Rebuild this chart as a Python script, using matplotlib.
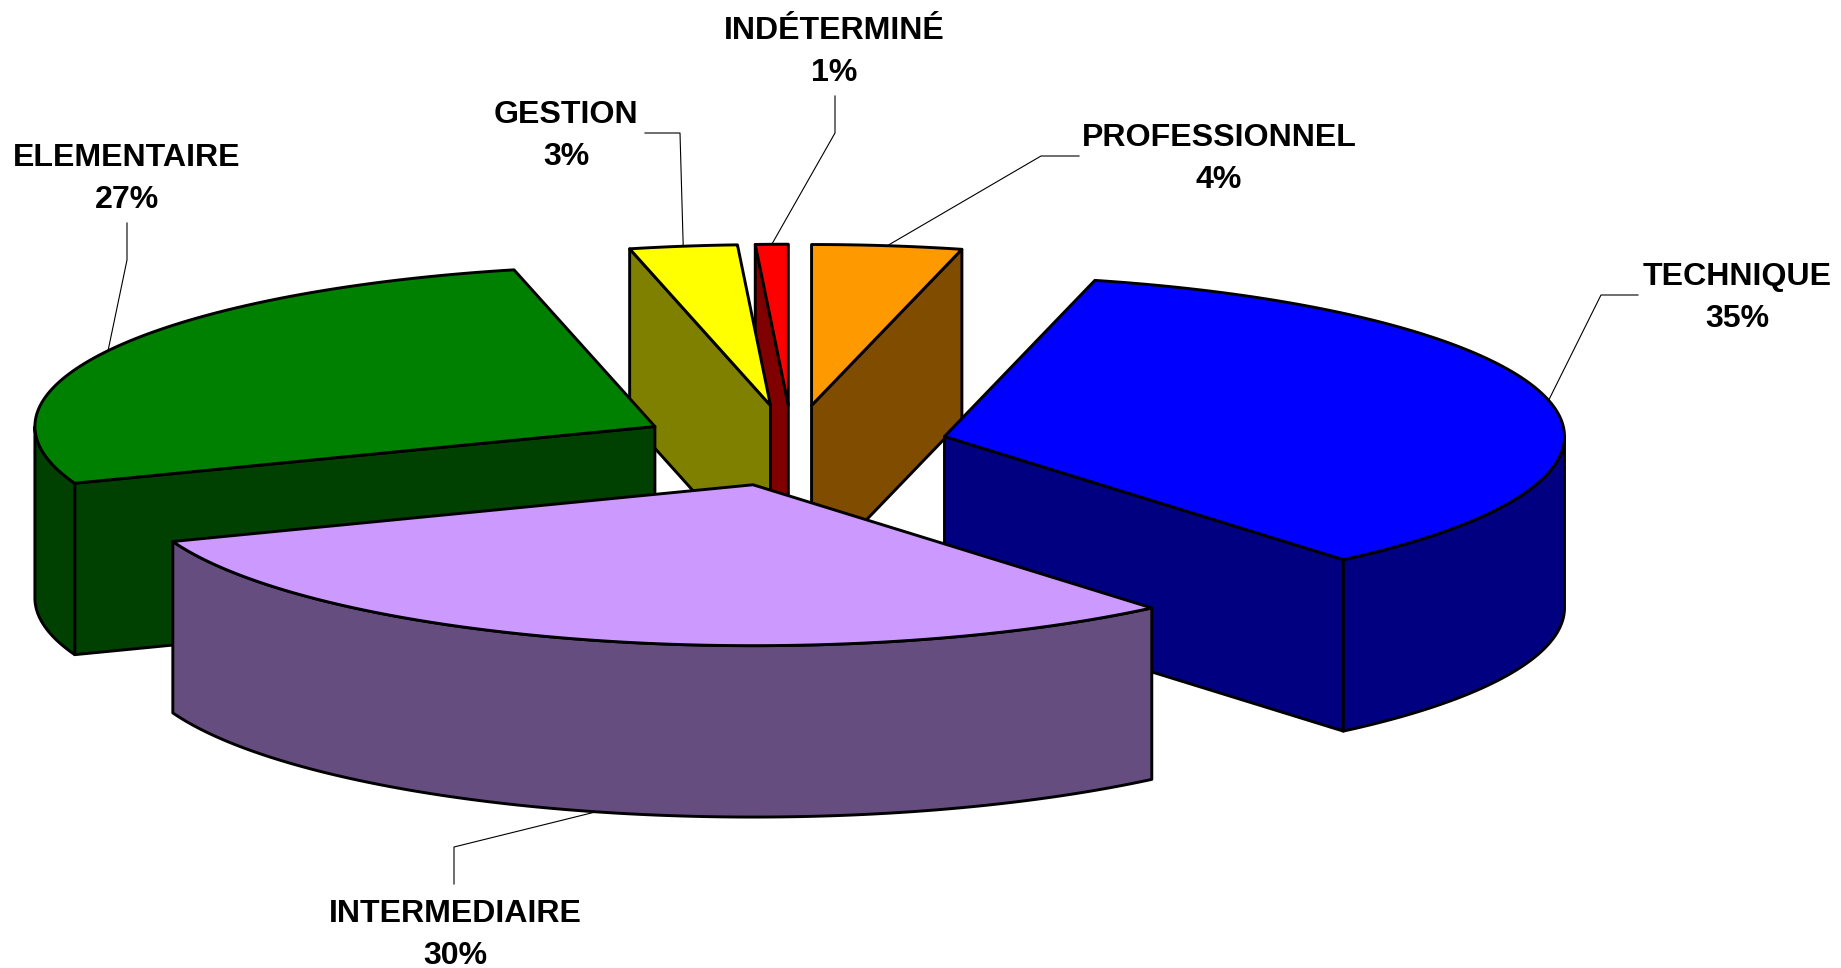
import numpy as np
import matplotlib
matplotlib.use("Agg")
import matplotlib.pyplot as plt
from matplotlib.patches import Polygon
from matplotlib.colors import to_rgb

categories = ["PROFESSIONNEL", "TECHNIQUE", "INTERMEDIAIRE", "ELEMENTAIRE", "GESTION", "INDÉTERMINÉ"]
percents = [3.9, 35.0, 30.4, 27.1, 2.8, 0.85]
top_colors = ["#FF9900", "#0000FF", "#CC99FF", "#008000", "#FFFF00", "#FF0000"]

# layout (pixels of the 1841x968 canvas)
CX, CY = 792.5, 445.6
RX, RY = 620.0, 160.9
EXPLODE = 156.0
DEPTH = 171.4
draw_order = ["INDÉTERMINÉ", "PROFESSIONNEL", "GESTION", "ELEMENTAIRE", "TECHNIQUE", "INTERMEDIAIRE"]
label_pos = {"PROFESSIONNEL": (1219, 159), "TECHNIQUE": (1737, 298), "INTERMEDIAIRE": (455, 935),
             "ELEMENTAIRE": (127, 179), "GESTION": (566, 136), "INDÉTERMINÉ": (834, 52)}
leader_elbow = {"PROFESSIONNEL": [(1041, 156), (1079, 156)], "TECHNIQUE": [(1601, 295), (1638, 295)],
                "INTERMEDIAIRE": [(454, 847), (454, 884)], "ELEMENTAIRE": [(127, 260), (127, 223)],
                "GESTION": [(680, 133), (645, 133)], "INDÉTERMINÉ": [(835, 133), (835, 96)]}

plt.rcParams["font.family"] = ["Liberation Sans", "DejaVu Sans"]
fig = plt.figure(figsize=(18.41, 9.68), dpi=100, facecolor="white")
ax = fig.add_axes([0, 0, 1, 1])
ax.set_xlim(0, 1841)
ax.set_ylim(968, 0)
ax.axis("off")

# wedge angles, clockwise from 12 o'clock
wedges = {}
angle = 90.0
for name, pct, col in zip(categories, percents, top_colors):
    sweep = pct / sum(percents) * 360.0
    wedges[name] = dict(t1=angle - sweep, t2=angle, color=col)
    angle -= sweep


def arc(ox, oy, t1, t2, dz=0.0):
    th = np.radians(np.linspace(t1, t2, 240))
    return np.column_stack([ox + RX * np.cos(th), oy - RY * np.sin(th) + dz])


def pt(ox, oy, t):
    r = np.radians(t)
    return np.array([ox + RX * np.cos(r), oy - RY * np.sin(r)])


EDGE = dict(edgecolor="black", linewidth=2.1, joinstyle="round")

for name in draw_order:
    w = wedges[name]
    t1, t2 = w["t1"], w["t2"]
    mid = np.radians((t1 + t2) / 2)
    ox = CX + EXPLODE * np.cos(mid)
    oy = CY - EXPLODE * RY / RX * np.sin(mid)
    rgb = np.array(to_rgb(w["color"]))
    side = tuple(rgb * 0.5)

    # radial faces turned toward the viewer
    if np.cos(np.radians(t2)) < -1e-9:
        p = pt(ox, oy, t2)
        ax.add_patch(Polygon([(ox, oy), p, p + [0, DEPTH], (ox, oy + DEPTH)], closed=True, facecolor=side, **EDGE))
    if np.cos(np.radians(t1)) > 1e-9:
        p = pt(ox, oy, t1)
        ax.add_patch(Polygon([(ox, oy), p, p + [0, DEPTH], (ox, oy + DEPTH)], closed=True, facecolor=side, **EDGE))

    # outer rim, only the part on the front half of the ellipse
    for lo, hi in [(-180.0, 0.0), (180.0, 360.0)]:
        a, b = max(t1, lo), min(t2, hi)
        if b > a:
            upper = arc(ox, oy, a, b)
            lower = arc(ox, oy, b, a, DEPTH)
            ax.add_patch(Polygon(np.vstack([upper, lower]), closed=True, facecolor=side, **EDGE))

    # top face
    top = np.vstack([[(ox, oy)], arc(ox, oy, t1, t2)])
    ax.add_patch(Polygon(top, closed=True, facecolor=w["color"], **EDGE))

    # leader line from the rim at the middle of the slice
    anchor = pt(ox, oy, np.degrees(mid))
    if np.sin(mid) < 0:
        anchor = anchor + [0, DEPTH]
    e = leader_elbow[name]
    ax.plot([anchor[0], e[0][0], e[1][0]], [anchor[1], e[0][1], e[1][1]], color="black", lw=0.8, zorder=5)

for name, pct in zip(categories, percents):
    x, y = label_pos[name]
    ax.text(x, y, f"{name}\n{round(pct)}%", ha="center", va="center", fontsize=23.1, fontweight="bold",
            color="black", linespacing=1.5, zorder=6)

fig.savefig("out.png", dpi=100, facecolor="white")
